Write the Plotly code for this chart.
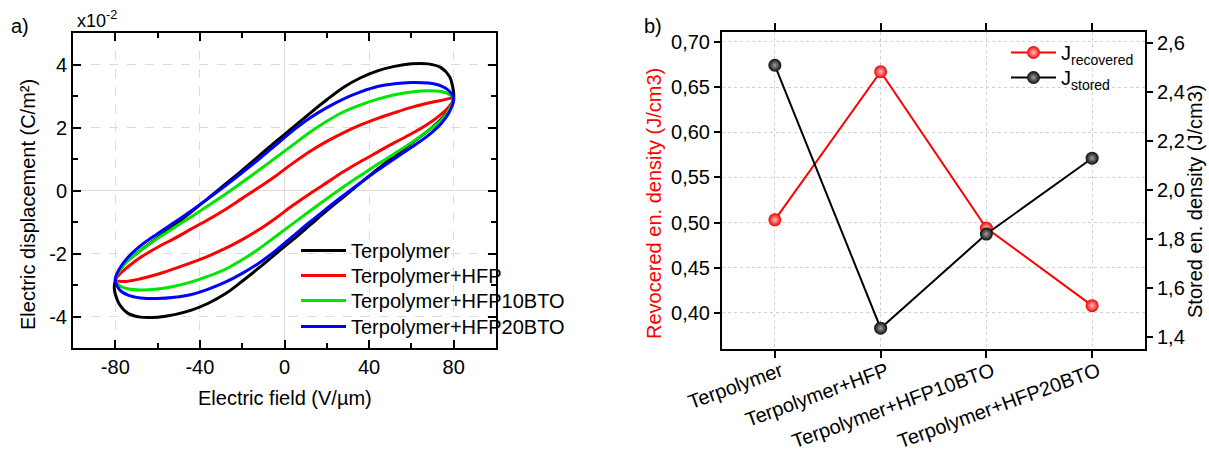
import plotly.graph_objects as go

# ---------------- Panel a) : D-E hysteresis loops (D in 1e-2 C/m^2) ----------------
terp_up_E = [80, 79.5, 78, 74, 68, 60, 52, 44, 36, 28, 20, 12, 4, -4, -12, -20, -28, -36, -44, -52, -60, -68, -74, -78, -80]
terp_up_D = [2.95, 3.3, 3.62, 3.9, 4.02, 4.02, 3.94, 3.8, 3.58, 3.28, 2.88, 2.45, 2.0, 1.56, 1.1, 0.64, 0.2, -0.24, -0.68, -1.1, -1.5, -1.9, -2.22, -2.52, -2.85]
terp_lo_E = [-80.5, -79.5, -78, -74, -68, -60, -52, -44, -36, -28, -20, -12, -4, 4, 12, 20, 28, 36, 44, 52, 60, 68, 74, 78, 80]
terp_lo_D = [-3.1, -3.4, -3.62, -3.9, -4.02, -4.02, -3.94, -3.8, -3.58, -3.28, -2.88, -2.45, -2.0, -1.56, -1.1, -0.64, -0.2, 0.24, 0.68, 1.1, 1.5, 1.9, 2.25, 2.6, 2.95]

hfp_up_E = [80, 74, 68, 60, 52, 44, 36, 28, 20, 12, 4, -4, -12, -20, -28, -36, -44, -52, -60, -68, -74, -78, -80]
hfp_up_D = [2.92, 2.86, 2.78, 2.64, 2.47, 2.29, 2.08, 1.84, 1.56, 1.24, 0.87, 0.47, 0.1, -0.25, -0.6, -0.92, -1.22, -1.52, -1.8, -2.12, -2.42, -2.66, -2.85]
hfp_lo_E = [-78, -74, -68, -60, -52, -44, -36, -28, -20, -12, -4, 4, 12, 20, 28, 36, 44, 52, 60, 68, 74, 78, 80]
hfp_lo_D = [-2.88, -2.88, -2.8, -2.66, -2.48, -2.29, -2.08, -1.84, -1.56, -1.24, -0.87, -0.47, -0.1, 0.25, 0.6, 0.92, 1.22, 1.52, 1.8, 2.12, 2.42, 2.68, 2.92]

bto10_up_E = [80, 78, 74, 68, 60, 52, 44, 36, 28, 20, 12, 4, -4, -12, -20, -28, -36, -44, -52, -60, -68, -74, -78, -80]
bto10_up_D = [2.92, 3.05, 3.14, 3.17, 3.13, 3.04, 2.9, 2.72, 2.5, 2.2, 1.85, 1.45, 1.05, 0.65, 0.26, -0.12, -0.48, -0.83, -1.17, -1.52, -1.9, -2.22, -2.55, -2.82]
bto10_lo_E = [-78, -74, -68, -60, -52, -44, -36, -28, -20, -12, -4, 4, 12, 20, 28, 36, 44, 52, 60, 68, 74, 78, 80]
bto10_lo_D = [-3.02, -3.12, -3.16, -3.13, -3.04, -2.9, -2.72, -2.5, -2.2, -1.85, -1.45, -1.05, -0.65, -0.26, 0.12, 0.48, 0.83, 1.17, 1.52, 1.9, 2.22, 2.58, 2.92]

bto20_up_E = [80, 78, 74, 68, 60, 52, 44, 36, 28, 20, 12, 4, -4, -12, -20, -28, -36, -44, -52, -60, -68, -74, -78, -80]
bto20_up_D = [2.9, 3.15, 3.32, 3.41, 3.43, 3.39, 3.3, 3.13, 2.91, 2.63, 2.3, 1.9, 1.45, 1.0, 0.57, 0.15, -0.25, -0.64, -1.01, -1.37, -1.75, -2.12, -2.48, -2.82]
bto20_lo_E = [-78, -74, -68, -60, -52, -44, -36, -28, -20, -12, -4, 4, 12, 20, 28, 36, 44, 52, 60, 68, 74, 78, 80]
bto20_lo_D = [-3.15, -3.32, -3.41, -3.43, -3.39, -3.3, -3.13, -2.91, -2.63, -2.3, -1.9, -1.45, -1.0, -0.57, -0.15, 0.25, 0.64, 1.01, 1.37, 1.75, 2.12, 2.5, 2.9]

loop_names = ["Terpolymer", "Terpolymer+HFP", "Terpolymer+HFP10BTO", "Terpolymer+HFP20BTO"]
loop_colors = ["#000000", "#ff0000", "#00e600", "#0000ff"]

xa_tickvals = [-80, -40, 0, 40, 80]
xa_ticktext = ["-80", "-40", "0", "40", "80"]
ya_tickvals = [-4, -2, 0, 2, 4]
ya_ticktext = ["-4", "-2", "0", "2", "4"]

# ---------------- Panel b) : energy densities ----------------
samples = ["Terpolymer", "Terpolymer+HFP", "Terpolymer+HFP10BTO", "Terpolymer+HFP20BTO"]
j_recovered = [0.503, 0.667, 0.494, 0.408]
j_stored = [2.51, 1.435, 1.82, 2.13]

# ---------------- figure ----------------
W, H = 1209, 450
def px(x):
    return x / W
def py(y):
    return 1 - y / H

fig = go.Figure()

loops = [
    (terp_up_E + terp_lo_E, terp_up_D + terp_lo_D),
    (hfp_up_E + hfp_lo_E, hfp_up_D + hfp_lo_D),
    (bto10_up_E + bto10_lo_E, bto10_up_D + bto10_lo_D),
    (bto20_up_E + bto20_lo_E, bto20_up_D + bto20_lo_D),
]
loop_legends = ["legend", "legend4", "legend5", "legend6"]
for (ex, dy), name, col, lg in zip(loops, loop_names, loop_colors, loop_legends):
    fig.add_trace(go.Scatter(
        x=ex, y=dy, mode="lines", name=name,
        line=dict(color=col, width=3, shape="spline", smoothing=1.0),
        xaxis="x", yaxis="y", legend=lg,
    ))

fig.add_trace(go.Scatter(
    x=samples, y=j_recovered, mode="lines+markers", name="J<sub>recovered</sub>",
    line=dict(color="#ff0000", width=2),
    marker=dict(size=13, color="#f00000", line=dict(width=0),
                gradient=dict(type="radial", color="#ffc0c0")),
    xaxis="x2", yaxis="y2", legend="legend2",
))
fig.add_trace(go.Scatter(
    x=samples, y=j_stored, mode="lines+markers", name="J<sub>stored</sub>",
    line=dict(color="#000000", width=2),
    marker=dict(size=13, color="#0a0a0a", line=dict(width=0),
                gradient=dict(type="radial", color="#a0a0a0")),
    xaxis="x2", yaxis="y3", legend="legend3",
))

font_main = "Liberation Sans, Arial, sans-serif"
grid_a = "#dcdcdc"

def leg(x, y):
    return dict(x=px(x), y=py(y), xanchor="left", yanchor="top",
                bgcolor="rgba(0,0,0,0)", borderwidth=0, itemwidth=45,
                font=dict(size=20))

fig.update_layout(
    width=W, height=H,
    margin=dict(l=0, r=0, t=0, b=0),
    paper_bgcolor="white", plot_bgcolor="white",
    separators=",.",
    font=dict(family=font_main, size=20, color="black"),
    xaxis=dict(
        domain=[px(73), px(496)], anchor="y", range=[-100, 100],
        tickvals=xa_tickvals, ticktext=xa_ticktext,
        ticks="inside", ticklen=8, tickwidth=2, tickcolor="black",
        minor=dict(ticks="inside", dtick=20, ticklen=5, tickwidth=2, tickcolor="black", showgrid=False),
        showline=True, linecolor="black", linewidth=2, mirror="ticks",
        showgrid=True, gridcolor=grid_a, griddash="dash", gridwidth=1,
        zeroline=True, zerolinecolor=grid_a, zerolinewidth=1,
        automargin=False, tickfont=dict(size=20),
    ),
    yaxis=dict(
        domain=[py(348), py(33)], anchor="x", range=[-5, 5],
        tickvals=ya_tickvals, ticktext=ya_ticktext,
        ticks="inside", ticklen=8, tickwidth=2, tickcolor="black",
        minor=dict(ticks="inside", dtick=1, ticklen=5, tickwidth=2, tickcolor="black", showgrid=False),
        showline=True, linecolor="black", linewidth=2, mirror="ticks",
        showgrid=True, gridcolor=grid_a, griddash="dash", gridwidth=1,
        zeroline=True, zerolinecolor=grid_a, zerolinewidth=1,
        automargin=False, tickfont=dict(size=20),
    ),
    xaxis2=dict(
        domain=[px(722), px(1145)], anchor="y2", type="category",
        range=[-0.5, 3.5], tickangle=-20, ticklabelshift=6, ticklabelstandoff=-6,
        ticks="outside", ticklen=7, tickwidth=2, tickcolor="black",
        showline=True, linecolor="black", linewidth=2, mirror="ticks",
        showgrid=True, gridcolor="#d0d0d0", griddash="dot", gridwidth=1,
        automargin=False, tickfont=dict(size=20),
    ),
    yaxis2=dict(
        domain=[py(349), py(32)], anchor="x2", range=[0.36, 0.711],
        dtick=0.05, tick0=0.4, tickformat=".2f",
        ticks="outside", ticklen=6, tickwidth=2, tickcolor="black",
        showline=True, linecolor="black", linewidth=2, mirror=False,
        showgrid=True, gridcolor="#d0d0d0", griddash="dot", gridwidth=1,
        zeroline=False, automargin=False, tickfont=dict(size=20),
    ),
    yaxis3=dict(
        anchor="x2", overlaying="y2", side="right", range=[1.35, 2.646],
        dtick=0.2, tick0=1.4, tickformat=".1f",
        ticks="outside", ticklen=6, tickwidth=2, tickcolor="black",
        showline=True, linecolor="black", linewidth=2,
        showgrid=False, zeroline=False, automargin=False, tickfont=dict(size=20),
    ),
    legend=leg(296, 231),
    legend4=leg(296, 256),
    legend5=leg(296, 281),
    legend6=leg(296, 307),
    legend2=leg(1006, 33),
    legend3=leg(1006, 58),
    showlegend=True,
)

ann = [
    dict(text="Electric displacement (C/m²)", x=px(28), y=py(205), textangle=-90, font=dict(size=20)),
    dict(text="Electric field (V/µm)", x=px(284.5), y=py(398), font=dict(size=20)),
    dict(text="Revocered en. density (J/cm3)", x=px(654), y=py(204), textangle=-90, font=dict(size=20, color="#ff0000")),
    dict(text="Stored en. density (J/cm3)", x=px(1195), y=py(202), textangle=-90, font=dict(size=20)),
    dict(text="a)", x=px(20), y=py(26), font=dict(size=20)),
    dict(text="b)", x=px(653), y=py(26), font=dict(size=20)),
]
for a in ann:
    fig.add_annotation(xref="paper", yref="paper", showarrow=False,
                       xanchor="center", yanchor="middle", **a)
fig.add_annotation(xref="paper", yref="paper", showarrow=False, text="x10<sup>-2</sup>",
                   x=px(75), y=py(33), xanchor="left", yanchor="bottom", font=dict(size=18))

fig.write_html("out.html", config={"displayModeBar": False},
               post_script="document.body.style.margin='0';document.body.style.overflow='hidden';")
